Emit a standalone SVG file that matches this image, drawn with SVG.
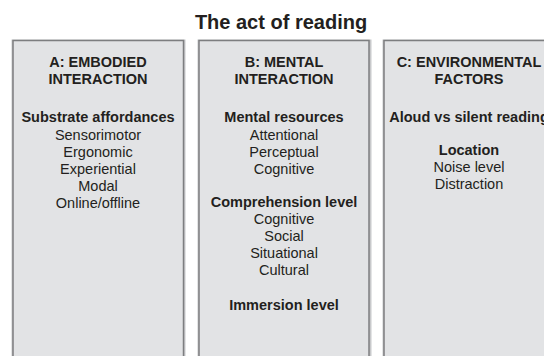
<svg xmlns="http://www.w3.org/2000/svg" width="544" height="356" viewBox="0 0 544 356">
<style>
.box{fill:#e2e3e5;stroke:#7d7e80;stroke-width:1.5}
.sh{fill:none;stroke:#c8c9cb;stroke-width:3}
text{font-family:"Liberation Sans",Arial,sans-serif;fill:#231f20;text-anchor:middle;font-size:14.5px}
.b{font-weight:bold}
.t{font-weight:bold;font-size:20px}
</style>
<rect width="544" height="356" fill="#ffffff"/>
<text class="t" x="281" y="29">The act of reading</text>
<g id="nodeA">
<rect class="sh" x="13" y="41" width="171" height="330"/>
<rect class="box" x="13" y="40.5" width="170.5" height="330"/>
<text class="b" x="98" y="67">A: EMBODIED</text>
<text class="b" x="98" y="84">INTERACTION</text>
<text class="b" x="98" y="122">Substrate affordances</text>
<text x="98" y="140">Sensorimotor</text>
<text x="98" y="157">Ergonomic</text>
<text x="98" y="174">Experiential</text>
<text x="98" y="191">Modal</text>
<text x="98" y="208">Online/offline</text>
</g>
<g id="nodeB">
<rect class="sh" x="199" y="41" width="171" height="330"/>
<rect class="box" x="199" y="40.5" width="170" height="330"/>
<text class="b" x="284" y="67">B: MENTAL</text>
<text class="b" x="284" y="84">INTERACTION</text>
<text class="b" x="284" y="122">Mental resources</text>
<text x="284" y="140">Attentional</text>
<text x="284" y="157">Perceptual</text>
<text x="284" y="174">Cognitive</text>
<text class="b" x="284" y="207">Comprehension level</text>
<text x="284" y="224">Cognitive</text>
<text x="284" y="241">Social</text>
<text x="284" y="258">Situational</text>
<text x="284" y="275">Cultural</text>
<text class="b" x="284" y="310">Immersion level</text>
</g>
<g id="nodeC">
<rect class="sh" x="384" y="41" width="171" height="330"/>
<rect class="box" x="384" y="40.5" width="170" height="330"/>
<text class="b" x="469" y="67">C: ENVIRONMENTAL</text>
<text class="b" x="469" y="84">FACTORS</text>
<text class="b" x="469" y="122">Aloud vs silent reading</text>
<text class="b" x="469" y="155">Location</text>
<text x="469" y="172">Noise level</text>
<text x="469" y="189">Distraction</text>
</g>
<g id="connectors"></g>
</svg>
